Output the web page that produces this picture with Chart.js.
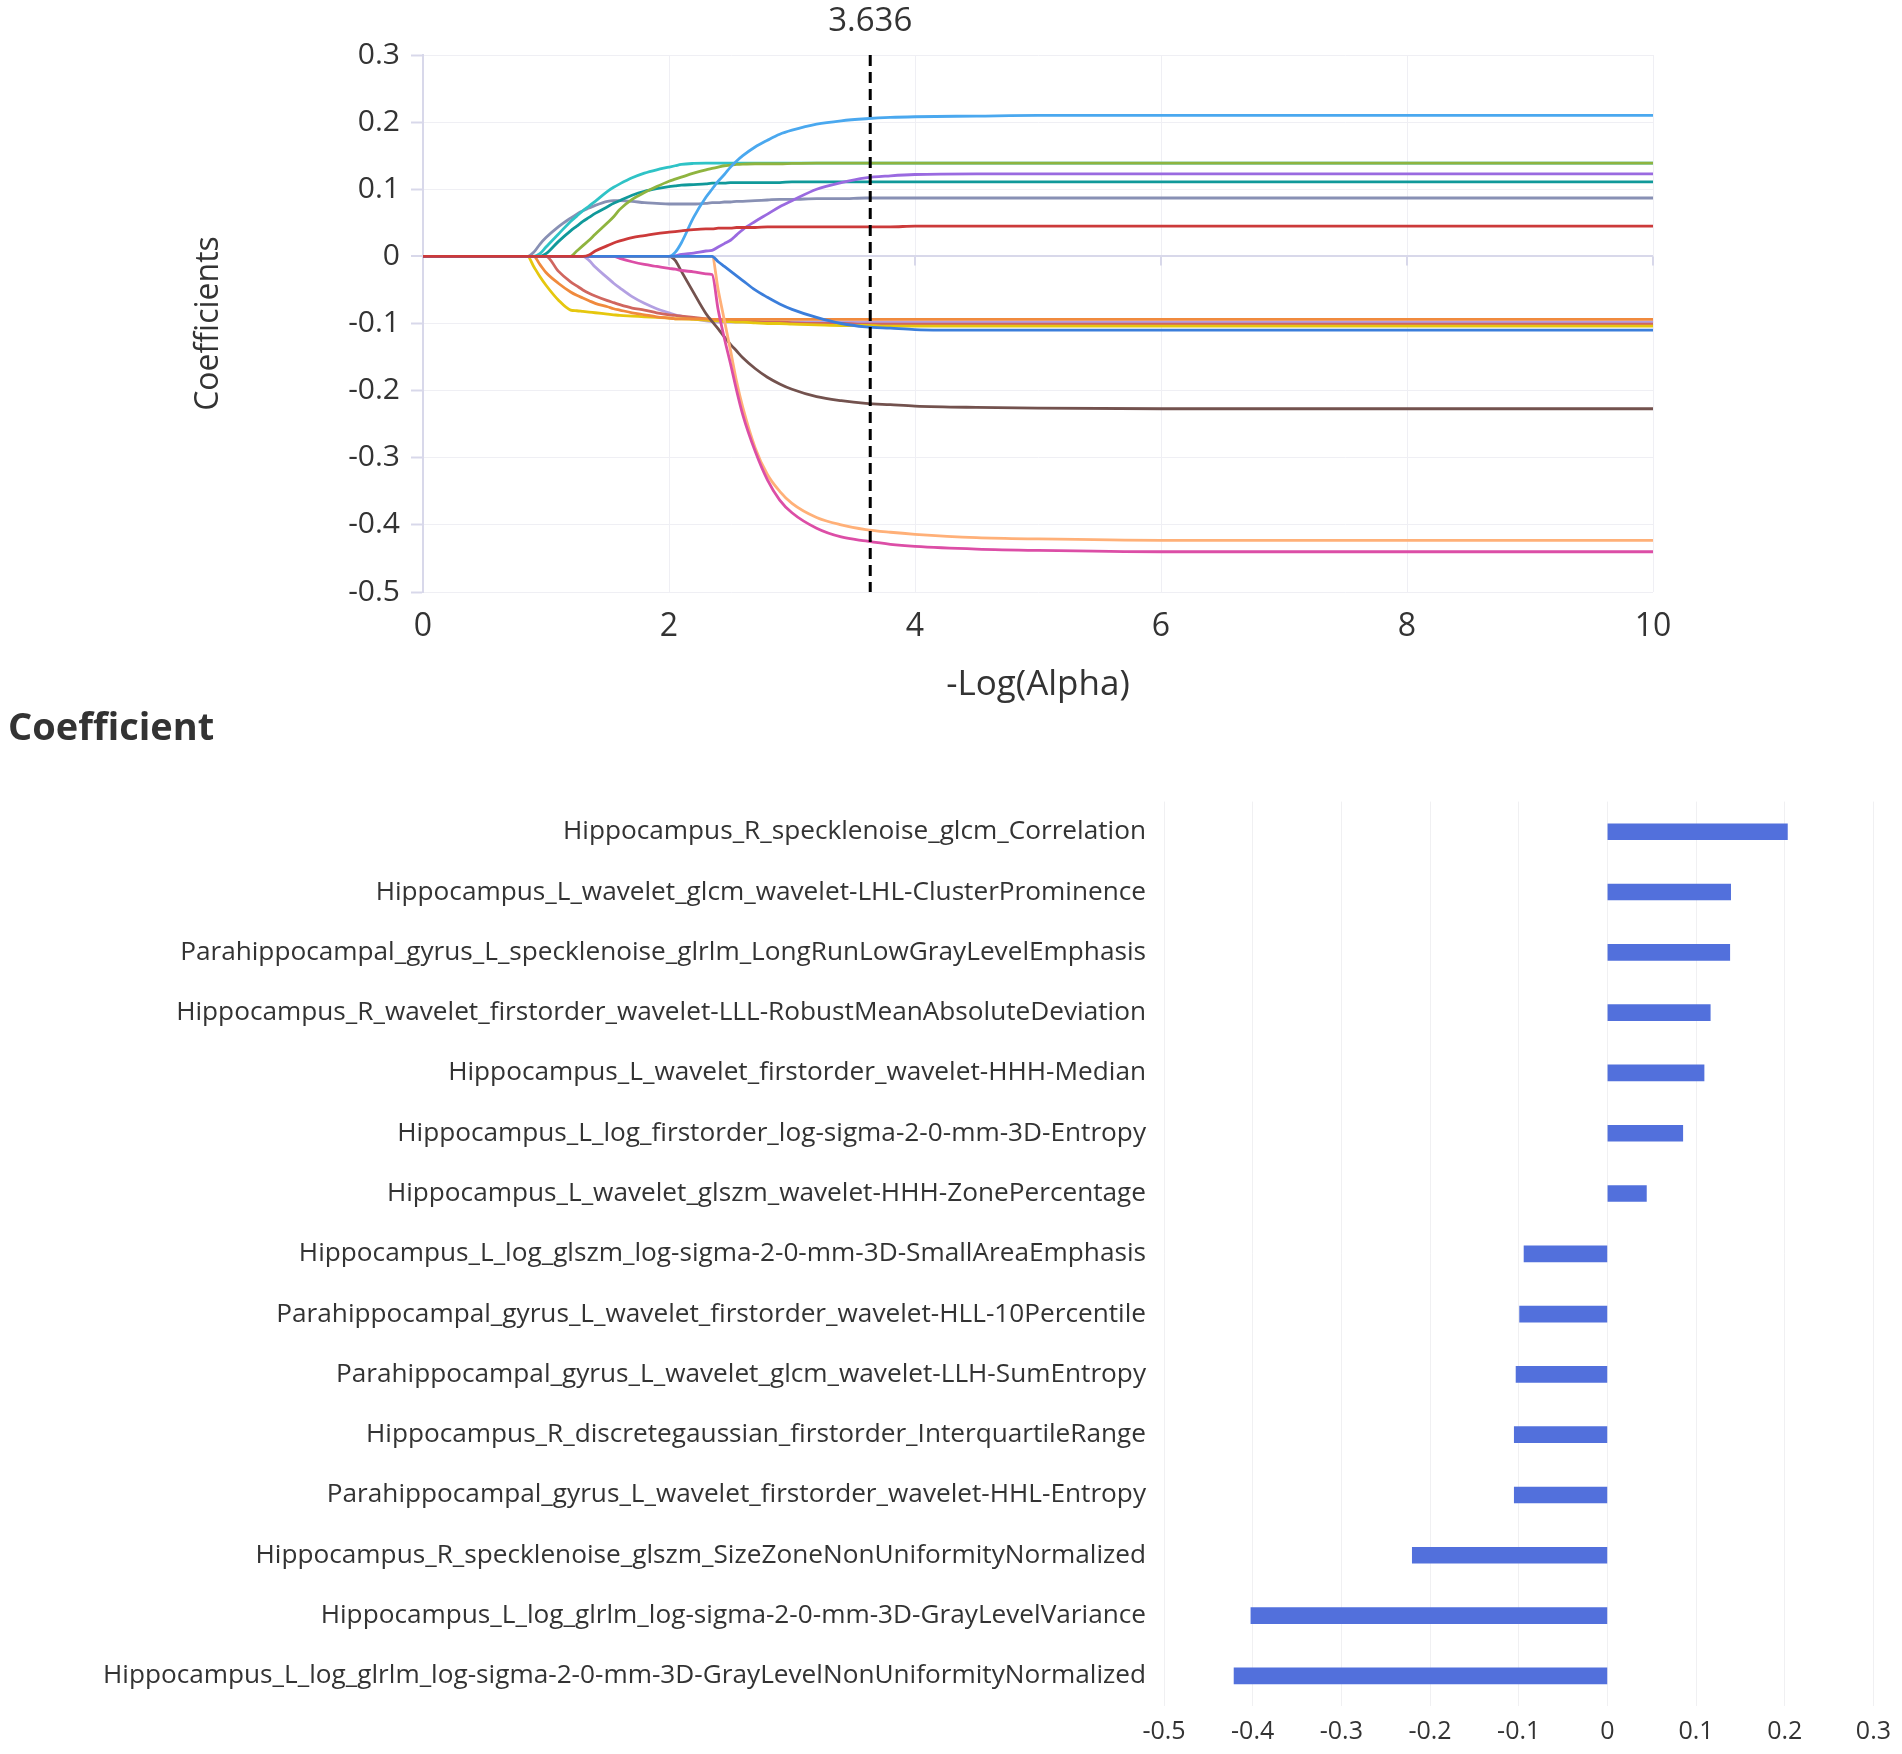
<!DOCTYPE html>
<html>
<head>
<meta charset="utf-8">
<script src="https://cdn.jsdelivr.net/npm/chart.js@4.4.1/dist/chart.umd.min.js"></script>
<style>
  html, body { margin: 0; padding: 0; background: #ffffff; }
  #wrap { position: relative; width: 1902px; height: 1754px; overflow: hidden; }
  #pathCanvas { position: absolute; left: 0; top: 0; }
  #coefCanvas { position: absolute; left: 0; top: 690px; }
</style>
</head>
<body>
<div id="wrap">
  <canvas id="pathCanvas" width="1902" height="720"></canvas>
  <canvas id="coefCanvas" width="1902" height="1064"></canvas>
</div>
<script>
// ---------------- DATA ----------------
const selectedAlpha = 3.636;

// -Log(Alpha) sample positions shared by all coefficient paths
const alphaGrid = [
  0, 0.85, 0.9, 0.95, 1.0, 1.1, 1.2, 1.25, 1.3, 1.35,
  1.4, 1.5, 1.55, 1.6, 1.7, 1.8, 1.9, 2.0, 2.05, 2.1,
  2.2, 2.3, 2.35, 2.4, 2.45, 2.5, 2.55, 2.6, 2.7, 2.8,
  2.9, 3.0, 3.2, 3.4, 3.6, 3.8, 4.0, 4.5, 5.0, 6.0,
  8.0, 10.0
];

const pathLightBlue = [
  0,0,0,0,0,0,0,0,0,0,
  0,0,0,0,0,0,0,0,0.006,0.02,
  0.058,0.088,0.100,0.112,0.122,0.133,0.142,0.150,0.163,0.173,
  0.182,0.188,0.197,0.202,0.205,0.207,0.208,0.209,0.21,0.21,
  0.21,0.21
];
const pathGreen = [
  0,0,0,0,0,0,0,0.008,0.016,0.024,
  0.033,0.050,0.059,0.070,0.085,0.095,0.104,0.112,0.115,0.118,
  0.124,0.129,0.131,0.133,0.135,0.136,0.137,0.1375,0.138,0.138,
  0.138,0.1385,0.139,0.139,0.139,0.139,0.139,0.139,0.139,0.139,
  0.139,0.139
];
const pathCyan = [
  0,0,0,0.004,0.014,0.033,0.052,0.060,0.068,0.075,
  0.082,0.097,0.103,0.108,0.117,0.124,0.129,0.133,0.135,0.137,
  0.1385,0.139,0.139,0.139,0.139,0.139,0.139,0.139,0.139,0.139,
  0.139,0.139,0.139,0.139,0.139,0.139,0.139,0.139,0.139,0.139,
  0.139,0.139
];
const pathPurple = [
  0,0,0,0,0,0,0,0,0,0,
  0,0,0,0,0,0,0,0,0.001,0.003,
  0.005,0.008,0.009,0.014,0.019,0.024,0.032,0.040,0.052,0.063,
  0.074,0.083,0.100,0.110,0.117,0.120,0.122,0.123,0.123,0.123,
  0.123,0.123
];
const pathTeal = [
  0,0,0,0,0.004,0.022,0.038,0.045,0.052,0.058,
  0.064,0.074,0.079,0.083,0.091,0.097,0.101,0.104,0.105,0.106,
  0.107,0.108,0.109,0.109,0.109,0.110,0.110,0.110,0.110,0.110,
  0.110,0.111,0.111,0.111,0.111,0.111,0.111,0.111,0.111,0.111,
  0.111,0.111
];
const pathGray = [
  0,0,0.006,0.018,0.028,0.044,0.057,0.063,0.068,0.072,
  0.076,0.082,0.083,0.083,0.082,0.080,0.079,0.078,0.078,0.078,
  0.078,0.079,0.080,0.080,0.081,0.081,0.082,0.082,0.083,0.084,
  0.085,0.085,0.086,0.086,0.087,0.087,0.087,0.087,0.087,0.087,
  0.087,0.087
];
const pathRed = [
  0,0,0,0,0,0,0,0,0,0.002,
  0.008,0.016,0.020,0.023,0.028,0.031,0.034,0.036,0.037,0.038,
  0.040,0.041,0.041,0.042,0.042,0.042,0.043,0.043,0.043,0.044,
  0.044,0.044,0.044,0.044,0.044,0.044,0.045,0.045,0.045,0.045,
  0.045,0.045
];
const pathOrange = [
  0,0,0,-0.012,-0.024,-0.040,-0.053,-0.058,-0.062,-0.066,
  -0.070,-0.075,-0.078,-0.080,-0.084,-0.087,-0.090,-0.092,-0.093,-0.093,
  -0.093,-0.093,-0.094,-0.094,-0.094,-0.094,-0.094,-0.094,-0.094,-0.094,
  -0.094,-0.094,-0.094,-0.094,-0.094,-0.094,-0.094,-0.094,-0.094,-0.094,
  -0.094,-0.094
];
const pathSalmon = [
  0,0,0,0,0,-0.022,-0.038,-0.044,-0.050,-0.055,
  -0.059,-0.066,-0.069,-0.072,-0.077,-0.080,-0.084,-0.087,-0.088,-0.089,
  -0.091,-0.093,-0.094,-0.095,-0.096,-0.096,-0.096,-0.097,-0.097,-0.098,
  -0.098,-0.099,-0.100,-0.100,-0.101,-0.101,-0.101,-0.101,-0.101,-0.101,
  -0.101,-0.101
];
const pathYellow = [
  0,0,-0.015,-0.030,-0.043,-0.065,-0.080,-0.081,-0.082,-0.083,
  -0.084,-0.086,-0.087,-0.088,-0.089,-0.090,-0.091,-0.092,-0.093,-0.093,
  -0.094,-0.095,-0.096,-0.096,-0.097,-0.097,-0.098,-0.098,-0.099,-0.100,
  -0.100,-0.101,-0.102,-0.103,-0.103,-0.104,-0.104,-0.104,-0.104,-0.104,
  -0.104,-0.104
];
const pathLavender = [
  0,0,0,0,0,0,0,0,0,-0.006,
  -0.016,-0.032,-0.040,-0.047,-0.060,-0.070,-0.078,-0.084,-0.087,-0.089,
  -0.093,-0.096,-0.097,-0.098,-0.098,-0.098,-0.098,-0.098,-0.098,-0.098,
  -0.098,-0.098,-0.098,-0.098,-0.098,-0.098,-0.098,-0.098,-0.098,-0.098,
  -0.098,-0.098
];
const pathBlue = [
  0,0,0,0,0,0,0,0,0,0,
  0,0,0,0,0,0,0,0,0,0,
  0,0,0,-0.008,-0.015,-0.022,-0.029,-0.036,-0.050,-0.061,
  -0.071,-0.079,-0.091,-0.100,-0.105,-0.107,-0.109,-0.110,-0.110,-0.110,
  -0.110,-0.110
];
const pathBrown = [
  0,0,0,0,0,0,0,0,0,0,
  0,0,0,0,0,0,0,0,-0.006,-0.022,
  -0.054,-0.085,-0.097,-0.108,-0.120,-0.131,-0.141,-0.151,-0.167,-0.180,
  -0.190,-0.198,-0.209,-0.215,-0.219,-0.221,-0.223,-0.225,-0.226,-0.227,
  -0.227,-0.227
];
const pathLightOrange = [
  0,0,0,0,0,0,0,0,0,0,
  0,0,0,0,0,0,0,0,0,0,
  0,0,0,-0.050,-0.095,-0.140,-0.187,-0.225,-0.285,-0.325,
  -0.350,-0.368,-0.389,-0.400,-0.407,-0.411,-0.414,-0.419,-0.421,-0.423,
  -0.423,-0.423
];
const pathPink = [
  0,0,0,0,0,0,0,0,0,0,
  0,0,0,-0.003,-0.008,-0.012,-0.015,-0.018,-0.019,-0.021,
  -0.023,-0.026,-0.027,-0.080,-0.122,-0.160,-0.200,-0.236,-0.290,-0.333,
  -0.363,-0.382,-0.405,-0.418,-0.424,-0.429,-0.432,-0.436,-0.438,-0.440,
  -0.440,-0.440
];

// Selected features and their coefficients (bar chart, top to bottom)
const featureNames = [
  'Hippocampus_R_specklenoise_glcm_Correlation',
  'Hippocampus_L_wavelet_glcm_wavelet-LHL-ClusterProminence',
  'Parahippocampal_gyrus_L_specklenoise_glrlm_LongRunLowGrayLevelEmphasis',
  'Hippocampus_R_wavelet_firstorder_wavelet-LLL-RobustMeanAbsoluteDeviation',
  'Hippocampus_L_wavelet_firstorder_wavelet-HHH-Median',
  'Hippocampus_L_log_firstorder_log-sigma-2-0-mm-3D-Entropy',
  'Hippocampus_L_wavelet_glszm_wavelet-HHH-ZonePercentage',
  'Hippocampus_L_log_glszm_log-sigma-2-0-mm-3D-SmallAreaEmphasis',
  'Parahippocampal_gyrus_L_wavelet_firstorder_wavelet-HLL-10Percentile',
  'Parahippocampal_gyrus_L_wavelet_glcm_wavelet-LLH-SumEntropy',
  'Hippocampus_R_discretegaussian_firstorder_InterquartileRange',
  'Parahippocampal_gyrus_L_wavelet_firstorder_wavelet-HHL-Entropy',
  'Hippocampus_R_specklenoise_glszm_SizeZoneNonUniformityNormalized',
  'Hippocampus_L_log_glrlm_log-sigma-2-0-mm-3D-GrayLevelVariance',
  'Hippocampus_L_log_glrlm_log-sigma-2-0-mm-3D-GrayLevelNonUniformityNormalized'
];
const coefValues = [0.203, 0.139, 0.138, 0.116, 0.109, 0.085, 0.044, -0.094, -0.099, -0.103, -0.105, -0.105, -0.220, -0.402, -0.421];

// ---------------- STYLE ----------------
const FONT = "'Open Sans', 'Noto Sans', 'DejaVu Sans', sans-serif";
const TEXT = '#333333';
const AXIS = '#d8d8ea';
const GRID = '#efeff4';

// series: [values, colour]; first entry is drawn on top
const pathSeries = [
  [pathRed, '#cc3a3a'],
  [pathBlue, '#3b7edb'],
  [pathPink, '#dc4ea6'],
  [pathLightOrange, '#ffb078'],
  [pathBrown, '#73524e'],
  [pathOrange, '#f08a3d'],
  [pathYellow, '#e6c70e'],
  [pathSalmon, '#d0665f'],
  [pathLavender, '#b3a0e2'],
  [pathLightBlue, '#4aa8ef'],
  [pathGreen, '#8fb43f'],
  [pathCyan, '#2fc3c6'],
  [pathPurple, '#9a6ae0'],
  [pathTeal, '#10999a'],
  [pathGray, '#8890b4']
];

const alphaMarker = {
  id: 'alphaMarker',
  afterDatasetsDraw(chart) {
    const {ctx, chartArea} = chart;
    const x = chart.scales.x.getPixelForValue(selectedAlpha);
    ctx.save();
    ctx.strokeStyle = '#000000';
    ctx.lineWidth = 3;
    ctx.setLineDash([11, 6]);
    ctx.beginPath();
    ctx.moveTo(x, chartArea.top);
    ctx.lineTo(x, chartArea.bottom);
    ctx.stroke();
    ctx.setLineDash([]);
    ctx.fillStyle = TEXT;
    ctx.font = '33px ' + FONT;
    ctx.textAlign = 'center';
    ctx.textBaseline = 'middle';
    ctx.fillText(selectedAlpha.toFixed(3), x, 22);
    ctx.restore();
  }
};

const zeroTicks = {
  id: 'zeroTicks',
  beforeDatasetsDraw(chart) {
    const {ctx} = chart;
    const xs = chart.scales.x, ys = chart.scales.y;
    const y0 = ys.getPixelForValue(0);
    ctx.save();
    ctx.strokeStyle = AXIS;
    ctx.lineWidth = 2;
    xs.ticks.forEach(t => {
      if (t.value === 0) return;
      const px = xs.getPixelForValue(t.value);
      ctx.beginPath();
      ctx.moveTo(px, y0);
      ctx.lineTo(px, y0 + 9);
      ctx.stroke();
    });
    ctx.restore();
  }
};

new Chart(document.getElementById('pathCanvas'), {
  type: 'line',
  data: {
    datasets: pathSeries.map(([vals, col]) => ({
      data: alphaGrid.map((x, i) => ({x: x, y: vals[i]})),
      borderColor: col,
      backgroundColor: col,
      borderWidth: 2.8,
      pointRadius: 0,
      cubicInterpolationMode: 'monotone',
      fill: false
    }))
  },
  options: {
    responsive: false,
    animation: false,
    devicePixelRatio: 1,
    layout: { padding: { left: 190, right: 249, top: 55, bottom: 0 } },
    plugins: { legend: { display: false }, tooltip: { enabled: false } },
    scales: {
      x: {
        type: 'linear', min: 0, max: 10,
        afterFit: s => { s.height = 128; },
        ticks: { stepSize: 2, padding: 16, color: TEXT, font: { family: FONT, size: 32 } },
        grid: { color: GRID, lineWidth: 1, drawTicks: false },
        border: { display: false },
        title: { display: true, text: '-Log(Alpha)', color: TEXT, font: { family: FONT, size: 35 }, padding: { top: 0, bottom: 14 } }
      },
      y: {
        type: 'linear', min: -0.5, max: 0.3,
        afterFit: s => { s.width = 233; },
        ticks: {
          stepSize: 0.1, padding: 11, color: TEXT, font: { family: FONT, size: 30 },
          callback: v => String(parseFloat(Number(v).toFixed(1)))
        },
        grid: {
          color: c => (c.tick && Math.abs(c.tick.value) < 1e-9) ? AXIS : GRID,
          lineWidth: c => (c.tick && Math.abs(c.tick.value) < 1e-9) ? 2 : 1,
          tickColor: AXIS, tickLength: 12, tickWidth: 2
        },
        border: { display: true, color: AXIS, width: 2 },
        title: { display: true, text: 'Coefficients', color: TEXT, font: { family: FONT, size: 32 }, padding: { top: 0, bottom: 0 } }
      }
    }
  },
  plugins: [zeroTicks, alphaMarker]
});

new Chart(document.getElementById('coefCanvas'), {
  type: 'bar',
  data: {
    labels: featureNames,
    datasets: [{
      data: coefValues,
      backgroundColor: '#5270dc',
      borderWidth: 0,
      barThickness: 16
    }]
  },
  options: {
    indexAxis: 'y',
    responsive: false,
    animation: false,
    devicePixelRatio: 1,
    layout: { padding: { left: 8, right: 28, top: 0, bottom: 0 } },
    plugins: {
      legend: { display: false },
      tooltip: { enabled: false },
      title: {
        display: true, text: 'Coefficient', align: 'start', color: TEXT,
        font: { family: FONT, size: 38, weight: 'bold' },
        padding: { top: 16, bottom: 50 }
      }
    },
    scales: {
      x: {
        type: 'linear', min: -0.5, max: 0.3,
        afterFit: s => { s.height = 48; },
        ticks: {
          stepSize: 0.1, padding: 11, color: TEXT, font: { family: FONT, size: 25 },
          callback: v => String(parseFloat(Number(v).toFixed(1)))
        },
        grid: { color: '#f0f0f2', lineWidth: 1, drawTicks: false },
        border: { display: false }
      },
      y: {
        afterFit: s => { s.width = 1156; },
        ticks: { padding: 18, color: TEXT, font: { family: FONT, size: 26.2 } },
        grid: { display: false, drawTicks: false },
        border: { display: false }
      }
    }
  }
});
</script>
</body>
</html>
